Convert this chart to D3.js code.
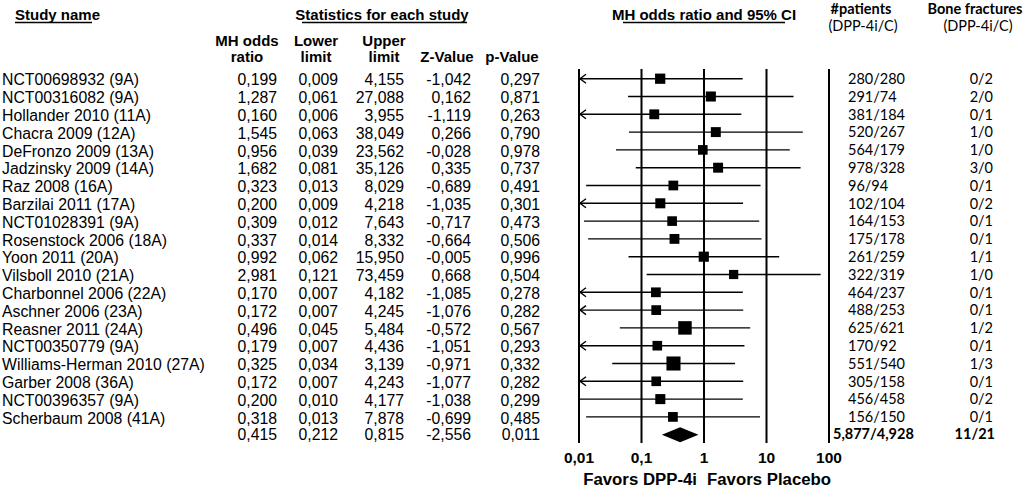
<!DOCTYPE html>
<html>
<head>
<meta charset="utf-8">
<script src="https://cdn.jsdelivr.net/npm/d3@7"></script>
<style>
html,body{margin:0;padding:0;background:#fff;}
svg{display:block;}
</style>
</head>
<body>
<svg id="chart" width="1024" height="489"></svg>
<script>
const studies = ["NCT00698932 (9A)","NCT00316082 (9A)","Hollander 2010 (11A)","Chacra 2009 (12A)","DeFronzo 2009 (13A)","Jadzinsky 2009 (14A)","Raz 2008 (16A)","Barzilai 2011 (17A)","NCT01028391 (9A)","Rosenstock 2006 (18A)","Yoon 2011 (20A)","Vilsboll 2010 (21A)","Charbonnel 2006 (22A)","Aschner 2006 (23A)","Reasner 2011 (24A)","NCT00350779 (9A)","Williams-Herman 2010 (27A)","Garber 2008 (36A)","NCT00396357 (9A)","Scherbaum 2008 (41A)"];
const oddsRatio = [0.199,1.287,0.160,1.545,0.956,1.682,0.323,0.200,0.309,0.337,0.992,2.981,0.170,0.172,0.496,0.179,0.325,0.172,0.200,0.318];
const lowerLimit = [0.009,0.061,0.006,0.063,0.039,0.081,0.013,0.009,0.012,0.014,0.062,0.121,0.007,0.007,0.045,0.007,0.034,0.007,0.010,0.013];
const upperLimit = [4.155,27.088,3.955,38.049,23.562,35.126,8.029,4.218,7.643,8.332,15.950,73.459,4.182,4.245,5.484,4.436,3.139,4.243,4.177,7.878];
const zValue = [-1.042,0.162,-1.119,0.266,-0.028,0.335,-0.689,-1.035,-0.717,-0.664,-0.005,0.668,-1.085,-1.076,-0.572,-1.051,-0.971,-1.077,-1.038,-0.699];
const pValue = [0.297,0.871,0.263,0.790,0.978,0.737,0.491,0.301,0.473,0.506,0.996,0.504,0.278,0.282,0.567,0.293,0.332,0.282,0.299,0.485];
// estimated relative weights (marker size)
const relWeight = [5.2,5.0,4.8,4.9,4.6,4.9,4.7,5.0,4.6,4.8,5.1,4.2,4.7,4.7,9.0,4.6,9.8,4.6,5.0,4.7];
const patients = ["280/280","291/74","381/184","520/267","564/179","978/328","96/94","102/104","164/153","175/178","261/259","322/319","464/237","488/253","625/621","170/92","551/540","305/158","456/458","156/150"];
const fractures = ["0/2","2/0","0/1","1/0","1/0","3/0","0/1","0/2","0/1","0/1","1/1","1/0","0/1","0/1","1/2","0/1","1/3","0/1","0/2","0/1"];
const summary = {or:0.415, lower:0.212, upper:0.815, z:-2.556, p:0.011, patients:"5,877/4,928", fractures:"11/21"};
const tickValues = [0.01,0.1,1,10,100];
const tickLabels = ["0,01","0,1","1","10","100"];

const fmt = v => d3.format(".3f")(v).replace(".", ",").replace("\u2212","-");
const svg = d3.select("#chart");
const SANS = "'Liberation Sans', Arial, sans-serif";
const CAL = "Lato, 'Open Sans', sans-serif";
const BODY = 15.8, HEAD = 15;

const rowY0 = 78.7, rowStep = 17.8;
const y = i => rowY0 + i * rowStep;
const x = d3.scaleLog().domain([0.01,100]).range([579,829]);
const size = d3.scaleSqrt().domain([0,10]).range([0,14.2]);

function txt(xp, yp, s, opt={}) {
  return svg.append("text").attr("x",xp).attr("y",yp).text(s)
    .attr("font-family", opt.family || SANS)
    .attr("font-size", opt.size || BODY)
    .attr("font-weight", opt.bold ? "bold" : "normal")
    .attr("text-anchor", opt.anchor || "start")
    .attr("fill","#000");
}
function underline(x1,x2,yy){
  svg.append("line").attr("x1",x1).attr("x2",x2).attr("y1",yy).attr("y2",yy).attr("stroke","#000").attr("stroke-width",1.3);
}
// headers
txt(15,20,"Study name",{bold:true,size:HEAD});
underline(15,92,22.5);
txt(382,20,"Statistics for each study",{bold:true,size:HEAD,anchor:"middle"});
underline(302,467,22.5);
txt(704,20,"MH odds ratio and 95% CI",{bold:true,size:HEAD,anchor:"middle"});
underline(623,785,22.5);

const sub = [
  [247,"MH odds","ratio"],[316,"Lower","limit"],[384,"Upper","limit"],[447,null,"Z-Value"],[512,null,"p-Value"]
];
sub.forEach(([cx,a,b])=>{
  if(a) txt(cx,46,a,{bold:true,size:HEAD,anchor:"middle"});
  txt(cx,62,b,{bold:true,size:HEAD,anchor:"middle"});
});
txt(861,14,"#patients",{bold:true,size:14.5,family:CAL,anchor:"middle"});
txt(863,31,"(DPP-4i/C)",{size:14.5,family:CAL,anchor:"middle"});
txt(975,14,"Bone fractures",{bold:true,size:14.5,family:CAL,anchor:"middle"});
txt(978,31,"(DPP-4i/C)",{size:14.5,family:CAL,anchor:"middle"});

// table rows
const colRight = [277,338,404,471,540];
studies.forEach((s,i)=>{
  const yy = y(i)+6.6;
  txt(2,yy,s);
  [oddsRatio[i],lowerLimit[i],upperLimit[i],zValue[i],pValue[i]].forEach((v,j)=>{
    txt(colRight[j],yy,fmt(v),{anchor:"end"});
  });
  txt(848,y(i)+5.2,patients[i],{size:14.5,family:CAL});
  txt(993,y(i)+5.2,fractures[i],{size:14.5,family:CAL,anchor:"end"});
});
const sy = y(studies.length);
[summary.or,summary.lower,summary.upper,summary.z,summary.p].forEach((v,j)=>{
  txt(colRight[j],sy+5.6,fmt(v),{anchor:"end"});
});
txt(833,sy+4.5,summary.patients,{size:14.5,family:CAL,bold:true});
txt(995,sy+4.5,summary.fractures,{size:14.5,family:CAL,bold:true,anchor:"end"});

// vertical reference lines
svg.append("g").selectAll("line").data(tickValues).join("line")
  .attr("x1",d=>x(d)).attr("x2",d=>x(d)).attr("y1",69).attr("y2",443)
  .attr("stroke","#000").attr("stroke-width",2);

// axis labels
svg.append("g").selectAll("text").data(tickValues).join("text")
  .attr("x",d=>x(d)).attr("y",463).attr("text-anchor","middle")
  .attr("font-family",SANS).attr("font-size",15.5).attr("font-weight","bold")
  .text((d,i)=>tickLabels[i]);
txt(x(1)-7,485,"Favors DPP-4i",{bold:true,size:16.8,anchor:"end"});
txt(x(1)+3,485,"Favors Placebo",{bold:true,size:16.8});

// CI lines, arrows and study markers
const minV = x.domain()[0];
const ci = svg.append("g");
studies.forEach((s,i)=>{
  const lo = Math.max(lowerLimit[i],minV);
  ci.append("line").attr("x1",x(lo)).attr("x2",x(upperLimit[i]))
    .attr("y1",y(i)).attr("y2",y(i)).attr("stroke","#000").attr("stroke-width",1.4);
  if (lowerLimit[i] < minV) {
    const ax = x(minV)+1;
    ci.append("path").attr("d",`M${ax+6},${y(i)-4.5}L${ax},${y(i)}L${ax+6},${y(i)+4.5}`)
      .attr("fill","none").attr("stroke","#000").attr("stroke-width",1.4);
  }
  const sz = size(relWeight[i]);
  ci.append("rect").attr("x",x(oddsRatio[i])-sz/2).attr("y",y(i)-sz/2)
    .attr("width",sz).attr("height",sz).attr("fill","#000");
});
// summary diamond
svg.append("path")
  .attr("d",`M${x(summary.lower)},${sy}L${x(summary.or)},${sy-7.5}L${x(summary.upper)},${sy}L${x(summary.or)},${sy+7.5}Z`)
  .attr("fill","#000");
</script>
</body>
</html>
